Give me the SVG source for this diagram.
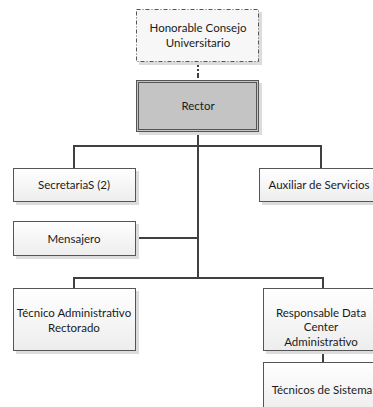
<svg xmlns="http://www.w3.org/2000/svg" width="373" height="407" viewBox="0 0 373 407">
  <defs>
    <linearGradient id="boxFill" x1="0" y1="0" x2="0" y2="1">
      <stop offset="0" stop-color="#ffffff"/>
      <stop offset="1" stop-color="#ededed"/>
    </linearGradient>
    <style>
      .box { fill: url(#boxFill); stroke: #555555; stroke-width: 1; }
      .shadow { fill: #dcdcdc; }
      .label { font-family: Lato, "Liberation Sans", sans-serif; font-size: 11.5px; fill: #1a1a1a; text-anchor: middle; }
      .wire { fill: none; stroke: #404040; stroke-width: 2; }
    </style>
  </defs>
  <rect width="373" height="407" fill="#ffffff"/>

  <!-- connectors -->
  <g id="connectors">
    <path class="wire" d="M198 62 V80" stroke-dasharray="5 2 2 2"/>
    <path class="wire" d="M198 132 V278"/>
    <path class="wire" d="M74 168 V146 H321 V168"/>
    <path class="wire" d="M136 238 H198"/>
    <path class="wire" d="M74 288 V278 H323 V288"/>
    <path class="wire" d="M323 351 V362"/>
  </g>

  <g id="consejo">
    <rect class="shadow" x="139" y="12" width="123" height="53"/>
    <rect x="136.5" y="9.5" width="122" height="52" fill="#f7f7f7" stroke="#555555" stroke-dasharray="4 2 1 2"/>
    <text class="label" x="198" y="32">Honorable Consejo</text>
    <text class="label" x="198" y="47">Universitario</text>
  </g>

  <g id="rector">
    <rect class="shadow" x="139" y="83" width="123" height="52"/>
    <rect x="136.5" y="80.5" width="122" height="51" fill="#c4c4c4" stroke="#555555"/>
    <rect x="138.5" y="82.5" width="118" height="47" fill="none" stroke="#555555"/>
    <text class="label" x="198" y="110">Rector</text>
  </g>

  <g id="secretarias">
    <rect class="shadow" x="16" y="171" width="123" height="34"/>
    <rect class="box" x="13.5" y="168.5" width="122" height="33"/>
    <text class="label" x="74" y="189">SecretariaS (2)</text>
  </g>

  <g id="auxiliar">
    <rect class="shadow" x="262" y="171" width="116" height="34"/>
    <rect class="box" x="259.5" y="168.5" width="116" height="33"/>
    <text class="label" x="319" y="189">Auxiliar de Servicios</text>
  </g>

  <g id="mensajero">
    <rect class="shadow" x="16" y="224" width="123" height="35"/>
    <rect class="box" x="13.5" y="221.5" width="122" height="34"/>
    <text class="label" x="74" y="243">Mensajero</text>
  </g>

  <g id="tecnico-administrativo">
    <rect class="shadow" x="16" y="291" width="123" height="63"/>
    <rect class="box" x="13.5" y="288.5" width="122" height="62"/>
    <text class="label" x="74" y="317">Técnico Administrativo</text>
    <text class="label" x="74" y="332">Rectorado</text>
  </g>

  <g id="responsable-data-center">
    <rect class="shadow" x="266" y="291" width="112" height="63"/>
    <rect class="box" x="263.5" y="288.5" width="112" height="62"/>
    <text class="label" x="321" y="317">Responsable Data</text>
    <text class="label" x="321" y="331">Center</text>
    <text class="label" x="321" y="346">Administrativo</text>
  </g>

  <g id="tecnicos-sistema">
    <rect class="shadow" x="266" y="365" width="112" height="50"/>
    <rect class="box" x="263.5" y="362.5" width="112" height="50"/>
    <text class="label" x="322" y="394">Técnicos de Sistema</text>
  </g>
</svg>
